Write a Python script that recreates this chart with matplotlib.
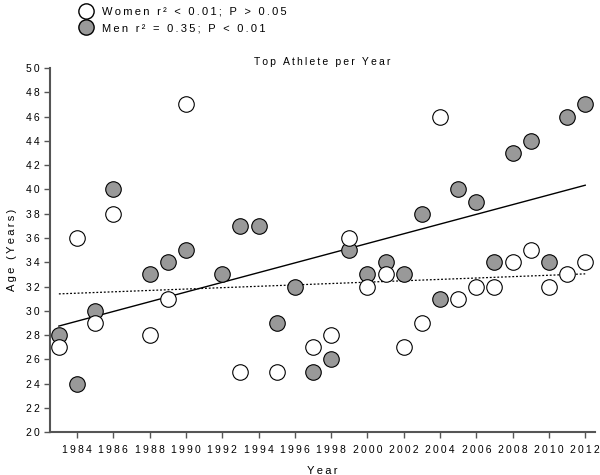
import numpy as np
import matplotlib
matplotlib.use("Agg")
import matplotlib.pyplot as plt
from matplotlib.lines import Line2D

plt.rcParams['font.family'] = ['Liberation Sans', 'DejaVu Sans']

# Women (open circles)
women_years = [1983, 1984, 1985, 1986, 1988, 1989, 1990, 1993, 1995, 1997, 1998, 1999,
               2000, 2001, 2002, 2003, 2004, 2005, 2006, 2007, 2008, 2009, 2010, 2011, 2012]
women_ages = [27, 36, 29, 38, 28, 31, 47, 25, 25, 27, 28, 36,
              32, 33, 27, 29, 46, 31, 32, 32, 34, 35, 32, 33, 34]

# Men (grey circles)
men_years = [1983, 1984, 1985, 1986, 1988, 1989, 1990, 1992, 1993, 1994, 1995, 1996, 1997, 1998,
             1999, 2000, 2001, 2002, 2003, 2004, 2005, 2006, 2007, 2008, 2009, 2010, 2011, 2012]
men_ages = [28, 24, 30, 40, 33, 34, 35, 33, 37, 37, 29, 32, 25, 26,
            35, 33, 34, 33, 38, 31, 40, 39, 34, 43, 44, 34, 46, 47]

year_ticks = list(range(1984, 2013, 2))
age_ticks = list(range(20, 51, 2))


def spaced(s):
    # the original uses wide letter spacing everywhere (thin spaces)
    return "\u2009".join(str(s))


women_label = spaced("Women r² < 0.01; P > 0.05")
men_label = spaced("Men r² = 0.35; P < 0.01")

fig = plt.figure(figsize=(6, 4.75), dpi=100)
ax = fig.add_axes([0.083, 0.09, 0.909, 0.767])

# regression lines fitted from the data
fit_x = np.array([1983, 2012])
wb = np.polyfit(women_years, women_ages, 1)
mb = np.polyfit(men_years, men_ages, 1)
ax.plot(fit_x, np.polyval(wb, fit_x), color="black", lw=0.9, ls=(0, (1.5, 1.5)), zorder=1)
ax.plot(fit_x, np.polyval(mb, fit_x), color="black", lw=1.0, zorder=1)

ax.scatter(men_years, men_ages, s=125, facecolor="#999999", edgecolor="black", lw=0.8, zorder=3)
ax.scatter(women_years, women_ages, s=125, facecolor="white", edgecolor="black", lw=0.8, zorder=3)

ax.set_xlim(1982.5, 2012.55)
ax.set_ylim(20, 50)
ax.set_xticks(year_ticks)
ax.set_xticklabels([spaced(y) for y in year_ticks])
ax.set_yticks(age_ticks)
ax.set_yticklabels([spaced(a) for a in age_ticks])
ax.tick_params(labelsize=7.5, width=1, length=4, color="#555555")
ax.tick_params(axis="x", pad=5)
ax.spines["top"].set_visible(False)
ax.spines["right"].set_visible(False)
for side in ["left", "bottom"]:
    ax.spines[side].set_color("#555555")
    ax.spines[side].set_linewidth(1.5)

ax.set_title(spaced("Top Athlete per Year"), fontsize=7.5, pad=2)
ax.set_xlabel(spaced("Year"), fontsize=8, labelpad=8)
ax.set_ylabel(spaced("Age (Years)"), fontsize=8, labelpad=6)

handles = [
    Line2D([], [], color="black", lw=0.8, ls=(0, (1, 1)), marker="o", markersize=11,
           markerfacecolor="white", markeredgecolor="black"),
    Line2D([], [], color="black", lw=0.8, marker="o", markersize=11,
           markerfacecolor="#999999", markeredgecolor="black"),
]
fig.legend(handles, [women_label, men_label], loc="upper left", bbox_to_anchor=(0.115, 1.007),
           frameon=False, fontsize=8, handlelength=1.3, handletextpad=0.8, labelspacing=0.6)

fig.savefig("out.png", dpi=100)
